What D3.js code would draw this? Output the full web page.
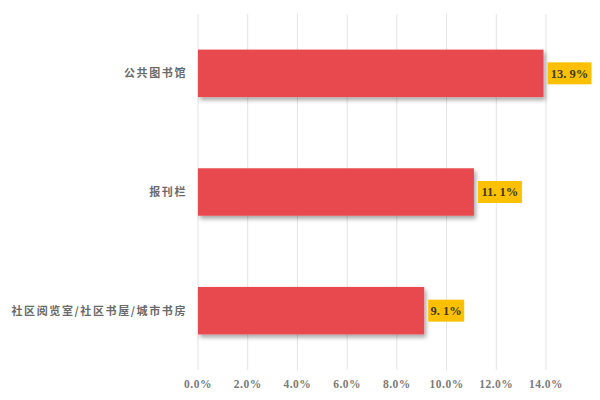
<!DOCTYPE html>
<html>
<head>
<meta charset="utf-8">
<script src="https://cdn.jsdelivr.net/npm/d3@7"></script>
<style>
  html,body{margin:0;padding:0;background:#fff;}
  svg{display:block;}
</style>
</head>
<body>
<svg id="chart" width="600" height="400"></svg>
<script>
/* ---------- data ---------- */
const categories=["公共图书馆","报刊栏","社区阅览室/社区书屋/城市书房"];
const values=[13.9,11.1,9.1];
const ticks=[0,2,4,6,8,10,12,14];

/* ---------- dims ---------- */
const M={top:14,right:54,bottom:30,left:198};
const Wt=600,Ht=400;
const W=Wt-M.left-M.right, H=Ht-M.top-M.bottom;

const svg=d3.select("#chart");
const defs=svg.append("defs");
defs.append("filter").attr("id","shadow")
  .attr("x","-10%").attr("y","-20%").attr("width","130%").attr("height","160%")
  .append("feDropShadow")
  .attr("dx",2).attr("dy",3).attr("stdDeviation",2)
  .attr("flood-color","#000").attr("flood-opacity",0.35);

const g=svg.append("g").attr("transform",`translate(${M.left},${M.top})`);

const x=d3.scaleLinear().domain([0,14]).range([0,348]);
const y=d3.scaleBand().domain(categories).range([0,H]).paddingInner(0.6).paddingOuter(0.3);

/* gridlines */
g.append("g").selectAll("line").data(ticks).join("line")
  .attr("x1",d=>x(d)).attr("x2",d=>x(d))
  .attr("y1",0).attr("y2",H)
  .attr("stroke","#e3e3e3").attr("stroke-width",1);

/* x tick labels */
g.append("g").selectAll("text").data(ticks).join("text")
  .attr("x",d=>x(d)).attr("y",H+18)
  .attr("text-anchor","middle")
  .attr("font-family","'Liberation Serif','DejaVu Serif',serif")
  .attr("font-size",11.5).attr("font-weight","bold").attr("letter-spacing",0.5)
  .attr("fill","#7a7a7a")
  .text(d=>d3.format(".1f")(d)+"%");

/* category labels */
g.append("g").selectAll("text").data(categories).join("text")
  .attr("x",-11).attr("y",d=>y(d)+y.bandwidth()/2)
  .attr("dy","0.35em").attr("text-anchor","end")
  .attr("font-family","'Noto Sans CJK SC',sans-serif")
  .attr("font-size",11).attr("font-weight","bold").attr("letter-spacing",1.6).attr("fill","#6a6a6a")
  .text(d=>d);

/* bars */
g.append("g").selectAll("rect").data(values).join("rect")
  .attr("x",0).attr("y",(d,i)=>y(categories[i]))
  .attr("width",d=>x(d)).attr("height",y.bandwidth())
  .attr("fill","#E84A50").attr("filter","url(#shadow)");

/* value labels */
const lab=g.append("g").selectAll("g").data(values).join("g")
  .attr("transform",(d,i)=>`translate(${x(d)+4},${y(categories[i])+y.bandwidth()/2})`);
lab.append("rect").attr("x",0).attr("y",-11)
  .attr("width",d=>d>=10?44:36).attr("height",22).attr("fill","#FFC000");
lab.append("text").attr("x",d=>d>=10?22:18).attr("dy","0.35em")
  .attr("text-anchor","middle")
  .attr("font-family","'Liberation Serif','DejaVu Serif',serif")
  .attr("font-size",12.5).attr("font-weight","bold").attr("fill","#3d3a20")
  .text(d=>d3.format(".1f")(d).replace(".",". ")+"%");
</script>
</body>
</html>
